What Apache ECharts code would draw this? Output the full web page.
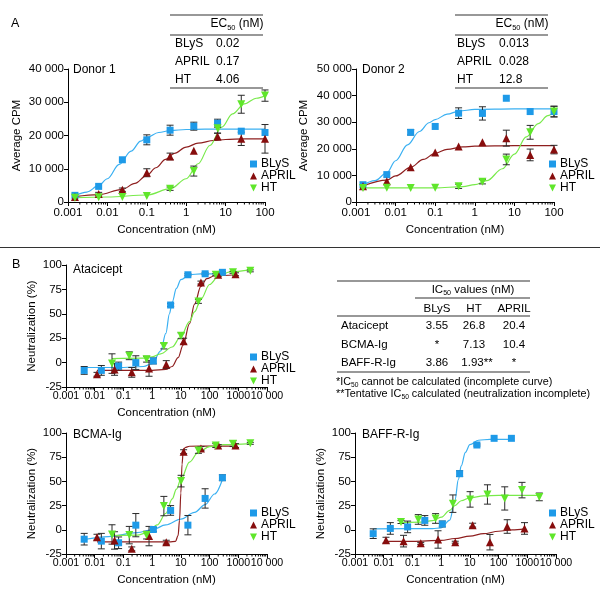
<!DOCTYPE html>
<html><head><meta charset="utf-8">
<script src="https://cdn.jsdelivr.net/npm/echarts/dist/echarts.min.js"></script>
<style>html,body{margin:0;padding:0;background:#fff}#c{width:600px;height:600px}</style>
</head><body><div id="c"></div>
<script>
// ---------- DATA ----------
const seriesNames = ['BLyS', 'APRIL', 'HT'];
const tickLabelsA = ['0.001', '0.01', '0.1', '1', '10', '100'];
const tickLabelsB = ['0.001', '0.01', '0.1', '1', '10', '100', '1000', '10 000'];

// Panel A: concentrations (nM)
const concA = [0.0015, 0.006, 0.024, 0.1, 0.39, 1.56, 6.25, 25, 100];
// Donor 1
const d1Blys = [2000, 4700, 12700, 18700, 21600, 22800, 23700, 21300, 20900];
const d1BlysErr = [0, 0, 0, 1500, 1500, 1200, 1200, 0, 0];
const d1April = [1500, 2400, 3700, 8800, 13700, 15400, 19700, 19000, 19000];
const d1AprilErr = [0, 500, 500, 1200, 1000, 0, 1000, 2000, 4300];
const d1Ht = [1300, 1400, 1500, 1800, 4000, 9300, 22200, 29400, 32000];
const d1HtErr = [0, 0, 0, 0, 500, 1500, 1500, 2700, 1700];
const fitD1Blys = [[0.0015,1900],[0.003,3000],[0.006,4900],[0.01,7000],[0.02,11300],[0.04,15300],[0.07,18300],[0.1,19400],[0.2,20900],[0.4,21500],[1,21800],[3,21900],[10,21900],[100,21900]];
const fitD1April = [[0.0015,1600],[0.006,2200],[0.024,3800],[0.05,5600],[0.1,8000],[0.17,10300],[0.3,12800],[0.5,14600],[1,16500],[2,17700],[5,18500],[10,18800],[30,19000],[100,19000]];
const fitD1Ht = [[0.0015,1300],[0.01,1500],[0.1,2100],[0.4,4000],[1,7000],[2,11500],[4,17000],[8,22500],[15,26500],[30,29500],[60,31200],[100,32000]];
// Donor 2
const d2Blys = [6500, 10300, 26200, 28400, 33400, 33300, 39000, 34000, 34000];
const d2BlysErr = [0, 0, 1000, 0, 2000, 2500, 0, 0, 2000];
const d2April = [5900, 7800, 13100, 18600, 20900, 22500, 24000, 17700, 19700];
const d2AprilErr = [0, 0, 0, 0, 0, 0, 3000, 2200, 1600];
const d2Ht = [5300, 5400, 5300, 5400, 5900, 7600, 16000, 26200, 34000];
const d2HtErr = [0, 0, 0, 0, 800, 800, 2000, 2600, 2000];
const fitD2Blys = [[0.0015,6300],[0.003,8000],[0.006,11000],[0.01,15500],[0.02,21500],[0.04,26500],[0.07,29800],[0.1,31000],[0.2,33000],[0.4,34200],[1,34800],[10,35000],[100,35000]];
const fitD2April = [[0.0015,6000],[0.006,8200],[0.01,9800],[0.024,13000],[0.05,16000],[0.1,18300],[0.2,19800],[0.5,20700],[1,21000],[10,21200],[100,21200]];
const fitD2Ht = [[0.0015,5300],[0.1,5300],[0.5,5800],[1,6500],[2,8000],[5,12500],[10,18000],[20,24500],[40,29500],[70,32500],[100,33800]];

// Panel B: concentrations (nM)
const concBlys = [0.0043, 0.017, 0.068, 0.27, 1.1, 4.4, 17.6, 70, 280];
const concApril = [0.012, 0.049, 0.195, 0.78, 3.1, 12.5, 50, 200, 800];
const concHt = [0.04, 0.16, 0.64, 2.56, 10.2, 41, 164, 655, 2620];
// Atacicept
const ataBlys = [-8, -8, -3.5, 0, 1.7, 59, 90, 91, 92.5];
const ataBlysErr = [4, 5, 4, 7, 3, 1.5, 1, 1, 1];
const ataApril = [-12, -7, -10, -6, -2, 22, 82, 90, 90.5];
const ataAprilErr = [2, 6, 5, 8, 4, 3, 1.5, 1.5, 1.5];
const ataHt = [-1, 7, 3.5, 17, 27.5, 62.7, 90, 92.5, 94];
const ataHtErr = [10, 4, 3, 3, 3, 2, 1, 1, 1];
const fitAtaBlys = [[0.0043,-5],[0.1,-5],[0.5,-4],[1,-1],[2,12],[3,30],[4,50],[5,62],[7,76],[10,85],[20,90],[50,91],[280,91]];
const fitAtaApril = [[0.012,-8],[1,-8],[3,-7],[5,-4],[8,5],[12,18],[20,40],[30,60],[50,78],[80,86],[150,89],[800,90]];
const fitAtaHt = [[0.04,4],[0.5,4.5],[1,6],[2,9],[5,16],[10,27],[20,42],[30,52],[50,65],[100,80],[200,88],[500,93],[2620,95]];
// BCMA-Ig
const bcmaBlys = [-9.7, -11.7, -13.4, 4.8, 0.3, 20, 4.8, 32.4, 53.8];
const bcmaBlysErr = [6, 8, 6, 12, 2, 5, 10, 10, 3];
const bcmaApril = [-7.6, -11, -19.7, -6.5, -12.8, 80.7, 84, 87, 87];
const bcmaAprilErr = [3, 9, 2, 10, 2, 2, 2, 1, 2];
const bcmaHt = [-4.8, -5.5, -5.5, 24.5, 50.3, 82, 87, 89, 89.3];
const bcmaHtErr = [10, 9, 4, 10, 6, 3, 2, 3, 1];
const fitBcmaBlys = [[0.0043,-10],[0.03,-7],[0.3,-3],[1,0],[3,5],[10,11],[30,18],[70,26],[150,37],[280,52]];
const fitBcmaApril = [[0.012,-12.4],[4,-12.4],[6.5,-12],[8,-6],[9,10],[10,38],[11,68],[12,80],[14,85],[20,86.3],[100,86.5],[780,86.5]];
const fitBcmaHt = [[0.04,-6],[0.3,-5.5],[0.7,-3],[1.5,5],[3,17],[5,32],[7,42],[10,52],[20,70],[40,80],[100,86],[300,88],[2620,89]];
// BAFF-R-Ig
const baffBlys = [-4, 1.4, 3, 9.7, 6, 58, 87.6, 94.5, 94.5];
const baffBlysErr = [5, 6, 6, 5, 3, 3, 1, 0, 0];
const baffApril = [-10.7, -11.7, -14, -10, -12.8, 4.8, -12.8, 3.4, 1.4];
const baffAprilErr = [3, 6, 1, 9, 1, 2, 8, 7, 6];
const baffHt = [8, 10.7, 11.7, 27, 31.4, 36.5, 32.4, 41, 34];
const baffHtErr = [1.5, 5, 5, 9, 8, 10, 12, 8, 4];
const fitBaffBlys = [[0.0043,1],[0.5,1.2],[1,2],[2,10],[3,30],[4,52],[5,66],[7,80],[10,88],[20,92.5],[50,93.5],[280,93.5]];
const fitBaffApril = [[0.012,-12],[0.1,-12],[1,-11],[3,-9],[10,-6.5],[30,-4],[100,-1.5],[300,0],[800,1]];
const fitBaffHt = [[0.04,7.5],[0.2,8],[0.5,9.5],[1,13],[2,20],[3,25],[5,30],[10,33],[30,35],[100,35.5],[2620,35.5]];

// Tables
const ec50Rows = ['BLyS', 'APRIL', 'HT'];
const ec50Donor1 = ['0.02', '0.17', '4.06'];
const ec50Donor2 = ['0.013', '0.028', '12.8'];
const ic50Rows = ['Atacicept', 'BCMA-Ig', 'BAFF-R-Ig'];
const ic50Cols = ['BLyS', 'HT', 'APRIL'];
const ic50Values = [['3.55', '26.8', '20.4'], ['*', '7.13', '10.4'], ['3.86', '1.93**', '*']];

// ---------- STYLE ----------
const FF = '"Liberation Sans", Arial, sans-serif';
const markerColors = ['#1E9AE8', '#870D0D', '#5FE62A'];
const curveColors = ['#3AB0F2', '#8E1F1F', '#78EA4A'];
const symbols = ['rect', 'triangle', 'path://M0,0L10,0L5,10Z'];
const symbolSizes = [7, 8, 8];

const grids = [
  {left: 68, top: 69, width: 197, height: 133},
  {left: 356, top: 69, width: 198, height: 133},
  {left: 66, top: 265, width: 201, height: 122},
  {left: 66, top: 433, width: 201, height: 121},
  {left: 355, top: 433, width: 201, height: 121}
];

const panels = [
  {xs: [concA, concA, concA], ys: [d1Blys, d1April, d1Ht], es: [d1BlysErr, d1AprilErr, d1HtErr], fits: [fitD1Blys, fitD1April, fitD1Ht], xmax: 100, ymin: 0, ymax: 40000, yint: 10000, ylabel: 'Average CPM', labels: tickLabelsA, kmax: 1},
  {xs: [concA, concA, concA], ys: [d2Blys, d2April, d2Ht], es: [d2BlysErr, d2AprilErr, d2HtErr], fits: [fitD2Blys, fitD2April, fitD2Ht], xmax: 100, ymin: 0, ymax: 50000, yint: 10000, ylabel: 'Average CPM', labels: tickLabelsA, kmax: 1},
  {xs: [concBlys, concApril, concHt], ys: [ataBlys, ataApril, ataHt], es: [ataBlysErr, ataAprilErr, ataHtErr], fits: [fitAtaBlys, fitAtaApril, fitAtaHt], xmax: 10000, ymin: -25, ymax: 100, yint: 25, ylabel: 'Neutralization (%)', labels: tickLabelsB, kmax: 3},
  {xs: [concBlys, concApril, concHt], ys: [bcmaBlys, bcmaApril, bcmaHt], es: [bcmaBlysErr, bcmaAprilErr, bcmaHtErr], fits: [fitBcmaBlys, fitBcmaApril, fitBcmaHt], xmax: 10000, ymin: -25, ymax: 100, yint: 25, ylabel: 'Neutralization (%)', labels: tickLabelsB, kmax: 3},
  {xs: [concBlys, concApril, concHt], ys: [baffBlys, baffApril, baffHt], es: [baffBlysErr, baffAprilErr, baffHtErr], fits: [fitBaffBlys, fitBaffApril, fitBaffHt], xmax: 10000, ymin: -25, ymax: 100, yint: 25, ylabel: 'Neutralization (%)', labels: tickLabelsB, kmax: 3}
];
const yNameGap = [45, 46, 28, 28, 28];

const axisCommon = {
  axisLine: {show: true, onZero: false, lineStyle: {color: '#000', width: 1}},
  axisTick: {show: true, length: 4, lineStyle: {color: '#000', width: 1}},
  splitLine: {show: false},
  nameTextStyle: {color: '#000', fontSize: 11.5, fontFamily: FF},
};

const xAxis = [], yAxis = [], series = [];
panels.forEach((p, i) => {
  xAxis.push(Object.assign({}, axisCommon, {
    gridIndex: i, type: 'log', logBase: 10, min: 0.001, max: p.xmax,
    splitNumber: Math.round(Math.log10(p.xmax) + 3),
    name: 'Concentration (nM)', nameLocation: 'middle', nameGap: i < 2 ? 22 : 20,
    axisLabel: {color: '#000', fontSize: i < 2 ? 11.5 : 10.6, fontFamily: FF, margin: i < 2 ? 5 : 4,
      interval: 0, hideOverlap: false, showMinLabel: true, showMaxLabel: true,
      formatter: v => p.labels[Math.round(Math.log10(v)) + 3]}
  }));
  yAxis.push(Object.assign({}, axisCommon, {
    gridIndex: i, type: 'value', min: p.ymin, max: p.ymax, interval: p.yint,
    name: p.ylabel, nameLocation: 'middle', nameGap: yNameGap[i], nameRotate: 90,
    axisLabel: {color: '#000', fontSize: 11.5, fontFamily: FF, margin: 4,
      formatter: v => String(v).replace(/\B(?=(\d{3})+(?!\d))/g, ' ')}
  }));
  // minor ticks on log axis
  const minor = [];
  for (let k = -3; k < p.kmax + 1; k++) for (let m = 2; m <= 9; m++) {
    const v = m * Math.pow(10, k);
    if (v < p.xmax) minor.push([v, p.ymin]);
  }
  series.push({
    type: 'custom', xAxisIndex: i, yAxisIndex: i, silent: true, clip: false, data: minor,
    encode: {x: 0, y: 1},
    renderItem: (params, api) => {
      const c = api.coord([api.value(0), api.value(1)]);
      return {type: 'line', shape: {x1: c[0], y1: c[1], x2: c[0], y2: c[1] + 2.5}, style: {stroke: '#000', lineWidth: 1}};
    }
  });
  for (let s = 0; s < 3; s++) {
    series.push({
      type: 'line', name: 'fit' + i + s, xAxisIndex: i, yAxisIndex: i, data: p.fits[s],
      showSymbol: false, symbol: 'none', smooth: 0.35, smoothMonotone: 'x', silent: true, z: 2,
      lineStyle: {color: curveColors[s], width: 1.2}
    });
    series.push({
      type: 'custom', name: 'err' + i + s, xAxisIndex: i, yAxisIndex: i, silent: true, z: 3,
      encode: {x: 0, y: 1},
      data: p.xs[s].map((x, j) => [x, p.ys[s][j], p.es[s][j]]),
      renderItem: (params, api) => {
        const x = api.value(0), y = api.value(1), e = api.value(2);
        if (!e) return {type: 'group', children: []};
        const t = api.coord([x, y + e]), b = api.coord([x, y - e]);
        const w = 3.5, st = {stroke: '#2a2a2a', lineWidth: 1};
        return {type: 'group', children: [
          {type: 'line', shape: {x1: t[0], y1: t[1], x2: b[0], y2: b[1]}, style: st},
          {type: 'line', shape: {x1: t[0] - w, y1: t[1], x2: t[0] + w, y2: t[1]}, style: st},
          {type: 'line', shape: {x1: b[0] - w, y1: b[1], x2: b[0] + w, y2: b[1]}, style: st}
        ]};
      }
    });
    series.push({
      type: 'scatter', name: seriesNames[s], xAxisIndex: i, yAxisIndex: i, z: 4,
      data: p.xs[s].map((x, j) => [x, p.ys[s][j]]),
      symbol: symbols[s], symbolSize: symbolSizes[s],
      itemStyle: {color: markerColors[s], opacity: 1}
    });
  }
});

const legendPos = [[250, 158], [549, 158], [250, 351], [250, 507], [549, 507]];
const legend = legendPos.map(([l, t]) => ({
  data: seriesNames.map((n, s) => ({name: n, icon: symbols[s]})),
  orient: 'vertical', left: l, top: t, itemWidth: 7, itemHeight: 7, itemGap: 0, padding: 0,
  selectedMode: false, textStyle: {color: '#000', fontSize: 12, fontFamily: FF, padding: [0, 0, 0, -1]}
}));

// ---------- GRAPHIC (labels & tables) ----------
const ctx = document.createElement('canvas').getContext('2d');
function tw(text, size) { ctx.font = size + 'px ' + FF; return ctx.measureText(text).width; }
function T(text, x, y, size, align) {
  return {type: 'text', x: x, y: y, silent: true, style: {text: text, font: size + 'px ' + FF, fill: '#000',
    textAlign: align || 'left', textVerticalAlign: 'middle', align: align || 'left', verticalAlign: 'middle'}};
}
function L(x1, y1, x2, y2) {
  return {type: 'line', silent: true, shape: {x1: x1, y1: y1, x2: x2, y2: y2}, style: {stroke: '#333', lineWidth: 1.2}};
}
// text with subscript: parts [pre, sub, post]
function SUB(pre, sub, post, x, y, size, align) {
  const ss = size * 0.62;
  const w1 = tw(pre, size), w2 = tw(sub, ss), w3 = tw(post, size);
  let x0 = x;
  if (align === 'center') x0 = x - (w1 + w2 + w3) / 2;
  return [T(pre, x0, y, size), T(sub, x0 + w1, y + 3.5, ss), T(post, x0 + w1 + w2, y, size)];
}

const g = [];
g.push(T('A', 11, 24, 12.5));
g.push(T('B', 12, 265, 12.5));
g.push(L(0, 247.5, 600, 247.5));
g.push(T('Donor 1', 73, 70, 12));
g.push(T('Donor 2', 362, 70, 12));
g.push(T('Atacicept', 73, 270, 12));
g.push(T('BCMA-Ig', 73, 435, 12));
g.push(T('BAFF-R-Ig', 362, 435, 12));

// EC50 tables
[[170, 263, 175, 216, 237, ec50Donor1], [455, 548, 457, 499, 522, ec50Donor2]].forEach(([x1, x2, lx, vx, hc, vals]) => {
  g.push(L(x1, 15, x2, 15));
  g.push(...SUB('EC', '50', ' (nM)', hc, 24, 12, 'center'));
  g.push(L(x1, 35, x2, 35));
  ec50Rows.forEach((r, k) => {
    const y = 43.5 + k * 18.2;
    g.push(T(r, lx, y, 12));
    g.push(T(vals[k], vx, y, 12));
  });
  g.push(L(x1, 88, x2, 88));
});

// IC50 table
g.push(L(337, 281, 530, 281));
g.push(...SUB('IC', '50', ' values (nM)', 473, 290, 11.5, 'center'));
g.push(L(415, 298, 530, 298));
const colX = [437, 474, 514];
ic50Cols.forEach((c, k) => g.push(T(c, colX[k], 309, 11.5, 'center')));
g.push(L(337, 316, 530, 316));
ic50Rows.forEach((r, k) => {
  const y = 326 + k * 18.5;
  g.push(T(r, 341, y, 11.5));
  ic50Values[k].forEach((v, c) => g.push(T(v, colX[c] + (v === '1.93**' ? 3 : 0), y, 11.5, 'center')));
});
g.push(L(337, 372, 530, 372));
g.push(...SUB('*IC', '50', ' cannot be calculated (incomplete curve)', 336, 382, 10.8, 'left'));
g.push(...SUB('**Tentative IC', '50', ' calculated (neutralization incomplete)', 336, 394, 10.8, 'left'));

const chart = echarts.init(document.getElementById('c'), null, {renderer: 'canvas'});
chart.setOption({
  animation: false,
  backgroundColor: '#fff',
  grid: grids,
  xAxis: xAxis,
  yAxis: yAxis,
  legend: legend,
  series: series,
  graphic: {elements: g}
});
</script></body></html>
